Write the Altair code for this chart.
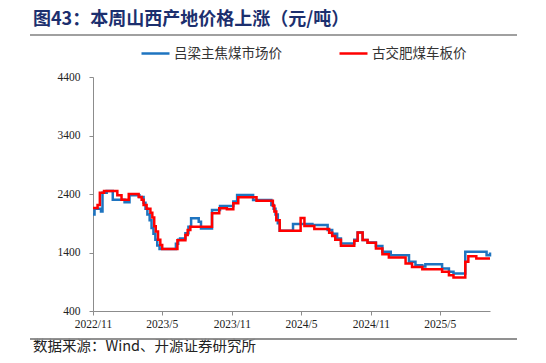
import altair as alt
import pandas as pd

S1 = "吕梁主焦煤市场价"
S2 = "古交肥煤车板价"
TITLE = "图43：本周山西产地价格上涨（元/吨）"
SOURCE = "数据来源：Wind、开源证券研究所"

blue_dates = [
    "2022-11-01", "2022-11-05", "2022-11-22", "2022-11-26", "2022-12-07", "2022-12-23",
    "2023-01-23", "2023-02-05", "2023-03-03", "2023-03-14", "2023-03-19", "2023-03-24",
    "2023-03-30", "2023-04-04", "2023-04-09", "2023-04-14", "2023-04-19", "2023-04-25",
    "2023-06-07", "2023-06-13", "2023-06-18", "2023-07-02", "2023-07-10", "2023-07-17",
    "2023-08-06", "2023-08-12", "2023-09-10", "2023-10-01", "2023-11-05", "2023-11-15",
    "2023-12-27", "2024-02-13", "2024-02-19", "2024-02-24", "2024-03-01", "2024-03-06",
    "2024-04-10", "2024-05-31", "2024-07-10", "2024-07-22", "2024-08-04", "2024-08-14",
    "2024-09-18", "2024-09-27", "2024-10-10", "2024-10-23", "2024-11-14", "2024-12-01",
    "2024-12-23", "2025-02-09", "2025-02-26", "2025-03-16", "2025-03-24", "2025-05-07",
    "2025-05-25", "2025-06-06", "2025-07-07", "2025-09-01", "2025-09-10",
]
blue_values = [
    2050, 2150, 2100, 2420, 2450, 2300,
    2260, 2380, 2350, 2250, 2150, 2050,
    1950, 1820, 1720, 1620, 1520, 1460,
    1550, 1620, 1640, 1727, 1840, 1984,
    1925, 1812, 2126, 2195, 2270, 2383,
    2298, 2210, 2150, 2050, 1900, 1770,
    1886, 1870, 1783, 1720, 1640, 1555,
    1620, 1744, 1612, 1572, 1509, 1411,
    1355, 1240, 1183, 1160, 1200, 1127,
    1069, 1040, 1411, 1355, 1400,
]

red_dates = [
    "2022-11-01", "2022-11-13", "2022-11-19", "2022-11-30", "2023-01-04", "2023-01-15",
    "2023-02-03", "2023-03-01", "2023-03-09", "2023-03-14", "2023-03-22", "2023-04-01",
    "2023-04-06", "2023-04-11", "2023-04-15", "2023-04-21", "2023-04-27", "2023-05-02",
    "2023-06-11", "2023-07-02", "2023-07-08", "2023-07-15", "2023-09-10", "2023-09-29",
    "2023-10-19", "2023-11-05", "2023-11-18", "2024-01-05", "2024-02-17", "2024-02-21",
    "2024-02-26", "2024-03-06", "2024-04-30", "2024-05-10", "2024-06-05", "2024-07-14",
    "2024-07-22", "2024-07-30", "2024-08-14", "2024-09-18", "2024-09-27", "2024-10-10",
    "2024-10-23", "2024-11-14", "2024-12-01", "2024-12-18", "2025-01-31", "2025-02-17",
    "2025-03-16", "2025-05-07", "2025-05-25", "2025-06-06", "2025-07-07", "2025-07-15",
    "2025-08-05", "2025-09-10",
]
red_values = [
    2160, 2210, 2420, 2450, 2380, 2300,
    2400, 2350, 2300, 2210, 2150, 2080,
    2000, 1850, 1760, 1620, 1530, 1460,
    1610, 1700, 1785, 1840, 2070, 2155,
    2138, 2240, 2343, 2285, 2200, 2100,
    1950, 1770, 1990, 1852, 1800, 1737,
    1680, 1620, 1515, 1600, 1744, 1612,
    1566, 1469, 1372, 1315, 1212, 1154,
    1115, 1069, 1012, 972, 1240, 1337,
    1298, 1298,
]

y_ticks = [400, 900, 1400, 1900, 2400, 2900, 3400, 3900, 4400]
x_ticks = [(2022, 11), (2023, 5), (2023, 11), (2024, 5), (2024, 11), (2025, 5)]

df = pd.concat([
    pd.DataFrame({"date": blue_dates, "price": blue_values, "series": S1}),
    pd.DataFrame({"date": red_dates, "price": red_values, "series": S2}),
], ignore_index=True)

W, H = 397, 234
AXIS_GRAY = "#8c8c8c"
LABEL_FONT = "Liberation Serif"
CJK = "Noto Sans CJK SC"

x_enc = alt.X(
    "date:T",
    scale=alt.Scale(type="utc", domain=[alt.DateTime(year=2022, month=11, date=1, utc=True),
                                        alt.DateTime(year=2025, month=9, date=10, utc=True)]),
    axis=alt.Axis(
        values=[alt.DateTime(year=y, month=m, date=1, utc=True) for y, m in x_ticks],
        format="%Y/%-m", title=None, grid=False, tickSize=4, labelPadding=3,
        labelFont=LABEL_FONT, labelFontSize=11.5, labelColor="#222",
        domainColor=AXIS_GRAY, tickColor=AXIS_GRAY, labelFlush=False,
    ),
)
y_enc = alt.Y(
    "price:Q",
    scale=alt.Scale(domain=[400, 4400], nice=False, zero=False),
    axis=alt.Axis(
        values=y_ticks, format="d", title=None, grid=False, tickSize=4, labelPadding=9,
        labelFont=LABEL_FONT, labelFontSize=11.5, labelColor="#222",
        domainColor=AXIS_GRAY, tickColor=AXIS_GRAY,
    ),
)
color_enc = alt.Color(
    "series:N",
    scale=alt.Scale(domain=[S1, S2], range=["#1E74C0", "#FF0000"]),
    legend=alt.Legend(
        title=None, orient="none", legendX=47, legendY=-39, direction="horizontal",
        symbolType="stroke", symbolSize=784, symbolStrokeWidth=2.5,
        labelFont=CJK, labelFontSize=13.5, labelColor="#333",
        columnPadding=52, labelOffset=3, padding=0,
    ),
)

base = alt.Chart(df).mark_line(interpolate="step-after", strokeWidth=2.5).encode(
    x=x_enc, y=y_enc, color=color_enc
)
blue = base.transform_filter(alt.datum.series == S1)
red = base.transform_filter(alt.datum.series == S2)

title = alt.Chart(pd.DataFrame({"t": [TITLE]})).mark_text(
    align="left", baseline="middle", font=CJK, fontSize=18, fontWeight="bold", color="#1C2F6E"
).encode(x=alt.value(-60), y=alt.value(-57), text="t:N")

source = alt.Chart(pd.DataFrame({"t": [SOURCE]})).mark_text(
    align="left", baseline="middle", font=CJK, fontSize=14.5, color="#222"
).encode(x=alt.value(-60), y=alt.value(270), text="t:N")

# separator lines under the title and above the source note
top_rule = alt.Chart(pd.DataFrame({"sep": ["top"]})).mark_rule(
    clip=False, color="#9a9a9a", strokeWidth=1.5
).encode(x=alt.value(-63), x2=alt.value(424), y=alt.value(-42))
bottom_rule = alt.Chart(pd.DataFrame({"sep": ["bottom"]})).mark_rule(
    clip=False, color="#8a8a8a", strokeWidth=1.5
).encode(x=alt.value(-63), x2=alt.value(424), y=alt.value(262))

# same separators expressed through the y scale (overlap exactly if both render)
top_rule_b = alt.Chart(pd.DataFrame({"sep": ["top"]})).mark_rule(
    clip=False, color="#9a9a9a", strokeWidth=1.5
).encode(x=alt.value(-63), x2=alt.value(424), y=alt.datum(5118))
bottom_rule_b = alt.Chart(pd.DataFrame({"sep": ["bottom"]})).mark_rule(
    clip=False, color="#8a8a8a", strokeWidth=1.5
).encode(x=alt.value(-63), x2=alt.value(424), y=alt.datum(-79))

chart = alt.layer(
    blue, red, title, source, top_rule, bottom_rule, top_rule_b, bottom_rule_b
).properties(
    width=W, height=H,
    padding={"left": 85, "top": 69, "right": 48, "bottom": 44},
    autosize=alt.AutoSizeParams(type="none"),
).configure_view(stroke=None)

chart.save("out.html", embed_options={"renderer": "svg", "actions": False})
